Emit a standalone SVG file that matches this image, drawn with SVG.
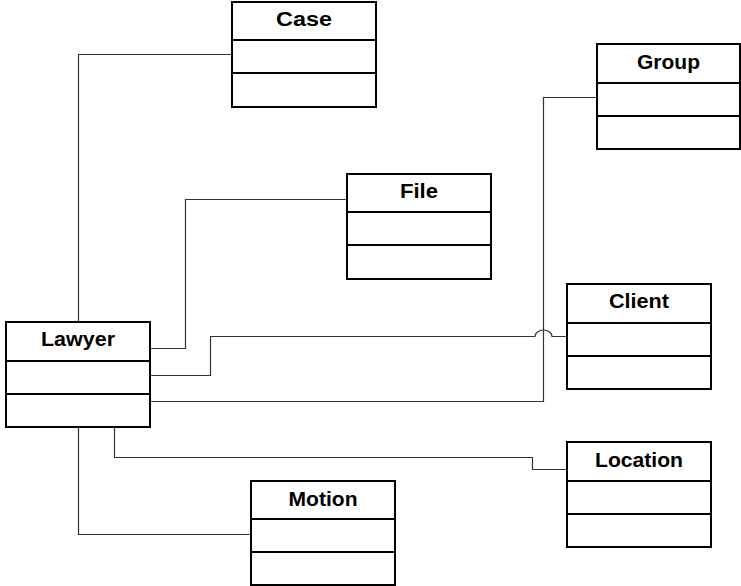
<svg xmlns="http://www.w3.org/2000/svg" width="741" height="586" viewBox="0 0 741 586">
  <style>
    .box { fill: #ffffff; stroke: #000000; stroke-width: 2; }
    .div { stroke: #000000; stroke-width: 2; }
    .name { font-family: "Liberation Sans", Arial, sans-serif; font-weight: bold; font-size: 20px; fill: #000000; text-anchor: middle; }
    .link { fill: none; stroke: #333333; stroke-width: 1.2; }
  </style>
  <rect width="741" height="586" fill="#ffffff"/>

  <!-- associations -->
  <g id="connectors">
    <path class="link" d="M78.5 322 V54.5 H232"/>
    <path class="link" d="M150 348.5 H185.5 V199.5 H347"/>
    <path class="link" d="M150 375.5 H210.5 V336.5 H535 A8.5 6.5 0 0 1 552 336.5 H567"/>
    <path class="link" d="M150 401.5 H543.5 V97.5 H597"/>
    <path class="link" d="M114.5 427 V457.5 H532.5 V469.5 H567"/>
    <path class="link" d="M78.5 427 V534.5 H251"/>
  </g>

  <g id="case">
    <rect class="box" x="232" y="2" width="144" height="105"/>
    <line class="div" x1="232" y1="40" x2="376" y2="40"/>
    <line class="div" x1="232" y1="73" x2="376" y2="73"/>
    <text class="name" x="304" y="26" textLength="56" lengthAdjust="spacingAndGlyphs">Case</text>
  </g>

  <g id="group">
    <rect class="box" x="597" y="44" width="143" height="105"/>
    <line class="div" x1="597" y1="83" x2="740" y2="83"/>
    <line class="div" x1="597" y1="116" x2="740" y2="116"/>
    <text class="name" x="668.5" y="69" textLength="63" lengthAdjust="spacingAndGlyphs">Group</text>
  </g>

  <g id="file">
    <rect class="box" x="347" y="174" width="144" height="105"/>
    <line class="div" x1="347" y1="212" x2="491" y2="212"/>
    <line class="div" x1="347" y1="245" x2="491" y2="245"/>
    <text class="name" x="419" y="198" textLength="38" lengthAdjust="spacingAndGlyphs">File</text>
  </g>

  <g id="client">
    <rect class="box" x="567" y="284" width="144" height="105"/>
    <line class="div" x1="567" y1="323" x2="711" y2="323"/>
    <line class="div" x1="567" y1="356" x2="711" y2="356"/>
    <text class="name" x="639" y="308" textLength="60" lengthAdjust="spacingAndGlyphs">Client</text>
  </g>

  <g id="lawyer">
    <rect class="box" x="6" y="322" width="144" height="105"/>
    <line class="div" x1="6" y1="361" x2="150" y2="361"/>
    <line class="div" x1="6" y1="394" x2="150" y2="394"/>
    <text class="name" x="78" y="346" textLength="74" lengthAdjust="spacingAndGlyphs">Lawyer</text>
  </g>

  <g id="location">
    <rect class="box" x="567" y="442" width="144" height="105"/>
    <line class="div" x1="567" y1="481" x2="711" y2="481"/>
    <line class="div" x1="567" y1="514" x2="711" y2="514"/>
    <text class="name" x="639" y="467" textLength="88" lengthAdjust="spacingAndGlyphs">Location</text>
  </g>

  <g id="motion">
    <rect class="box" x="251" y="481" width="144" height="104"/>
    <line class="div" x1="251" y1="519" x2="395" y2="519"/>
    <line class="div" x1="251" y1="552" x2="395" y2="552"/>
    <text class="name" x="323" y="506" textLength="69" lengthAdjust="spacingAndGlyphs">Motion</text>
  </g>
</svg>
